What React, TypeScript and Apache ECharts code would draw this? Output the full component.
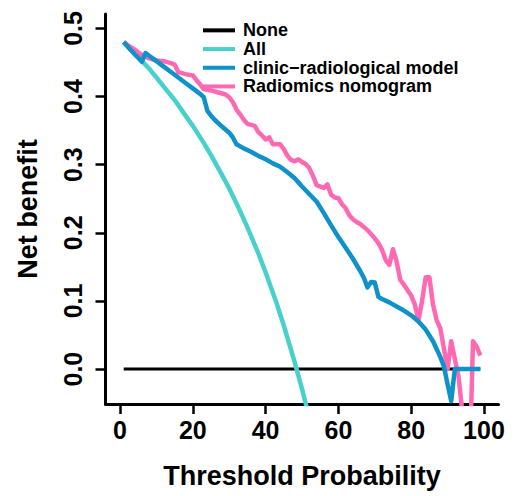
import React, { useEffect, useRef } from "react";
import * as echarts from "echarts";

const xTicks = [0, 20, 40, 60, 80, 100];
const yTicks = [0, 0.1, 0.2, 0.3, 0.4, 0.5];

const noneX = [1, 99];
const noneY = [0, 0];

const allX = [1, 3, 5, 8, 10, 13, 15, 18, 20, 23, 25, 28, 30, 33, 35, 38, 40, 43, 45, 48, 50, 51, 52];
const allY = [0.480, 0.469, 0.458, 0.441, 0.428, 0.408, 0.395, 0.372, 0.357, 0.332, 0.314, 0.285, 0.265, 0.232, 0.208, 0.170, 0.142, 0.097, 0.064, 0.010, -0.029, -0.050, -0.073];

const clinX = [1, 2, 3, 4, 5, 6, 7, 8, 10, 12, 14, 16, 18, 20, 22, 23, 24, 25, 26, 28, 30, 31, 32, 34, 36, 38, 40, 42, 44, 46, 48, 50, 52, 54, 56, 58, 60, 62, 64, 66, 67, 68, 69, 70, 71, 72, 74, 76, 78, 80, 82, 84, 86, 88, 89, 90, 91, 92, 95, 99];
const clinY = [0.480, 0.474, 0.468, 0.462, 0.457, 0.451, 0.464, 0.460, 0.452, 0.444, 0.436, 0.428, 0.420, 0.412, 0.404, 0.399, 0.379, 0.372, 0.366, 0.356, 0.347, 0.340, 0.330, 0.324, 0.319, 0.313, 0.308, 0.302, 0.297, 0.289, 0.280, 0.268, 0.257, 0.246, 0.229, 0.211, 0.194, 0.178, 0.162, 0.144, 0.134, 0.120, 0.128, 0.127, 0.106, 0.103, 0.098, 0.092, 0.086, 0.079, 0.070, 0.058, 0.041, 0.018, 0.004, -0.022, -0.047, 0.000, 0.000, 0.000];

const radX = [1, 2, 4, 6, 8, 10, 12, 14, 15, 16, 18, 20, 21, 22, 23, 25, 27, 29, 30, 31, 32, 33, 34, 35, 37, 38, 39, 40, 41, 42, 44, 45, 46, 47, 48, 49, 50, 51, 52, 53, 54, 56, 57, 58, 59, 60, 61, 62, 63, 64, 65, 66, 68, 70, 71, 72, 73, 74, 75, 76, 77, 78, 80, 81, 82, 83, 84, 85, 86, 87, 88, 89, 90, 91, 92, 93, 94, 95, 96, 97, 98, 99];
const radY = [0.480, 0.476, 0.469, 0.461, 0.456, 0.453, 0.452, 0.449, 0.447, 0.436, 0.433, 0.431, 0.424, 0.418, 0.411, 0.409, 0.406, 0.403, 0.399, 0.392, 0.381, 0.374, 0.366, 0.360, 0.357, 0.348, 0.343, 0.337, 0.340, 0.330, 0.330, 0.323, 0.313, 0.307, 0.305, 0.308, 0.304, 0.301, 0.295, 0.284, 0.270, 0.266, 0.271, 0.256, 0.252, 0.251, 0.242, 0.236, 0.226, 0.220, 0.216, 0.213, 0.204, 0.192, 0.185, 0.175, 0.160, 0.153, 0.176, 0.158, 0.131, 0.124, 0.108, 0.095, 0.072, 0.100, 0.135, 0.135, 0.095, 0.072, 0.060, 0.030, 0.000, 0.041, 0.015, -0.010, -0.060, -0.300, -0.150, 0.041, 0.033, 0.020];

const names = ["None", "All", "clinic\u2212radiological model", "Radiomics nomogram"];
const colors = ["#000000", "#48D1CC", "#0F92C9", "#FF69B4"];

const FONT = "'Liberation Sans', Arial, Helvetica, sans-serif";

function pairs(xs: number[], ys: number[]) {
  return xs.map((x, i) => [x, ys[i]]);
}

export default function App() {
  const ref = useRef<HTMLDivElement>(null);
  useEffect(() => {
    if (!ref.current) return;
    const chart = echarts.init(ref.current, null, { renderer: "svg" });
    const mk = (name: string, color: string, data: number[][], width: number, z: number) => ({
      type: "line",
      name,
      data,
      showSymbol: false,
      symbol: "none",
      clip: true,
      z,
      lineStyle: { color, width, cap: "butt", join: "round" },
      itemStyle: { color },
    });
    chart.setOption({
      animation: false,
      backgroundColor: "#ffffff",
      grid: { left: 105.5, top: 14, width: 393, height: 390, containLabel: false },
      legend: {
        orient: "vertical",
        left: 198,
        top: 16,
        icon: "rect",
        itemWidth: 32,
        itemHeight: 4,
        itemGap: 0,
        data: names,
        textStyle: {
          fontFamily: FONT,
          fontWeight: "bold",
          fontSize: 18,
          color: "#000",
          lineHeight: 18.7,
          padding: [0, 0, 0, 3],
        },
      },
      xAxis: {
        type: "value",
        min: -4,
        max: 104,
        name: "Threshold Probability",
        nameLocation: "middle",
        nameGap: 58,
        nameTextStyle: { fontFamily: FONT, fontWeight: "bold", fontSize: 27, color: "#000" },
        axisLine: { show: true, onZero: false, lineStyle: { color: "#000", width: 3 } },
        axisTick: { show: true, length: 10, customValues: xTicks, lineStyle: { color: "#000", width: 2.5 } },
        axisLabel: { customValues: xTicks, margin: 13, fontFamily: FONT, fontWeight: "bold", fontSize: 25, color: "#000" },
        splitLine: { show: false },
      },
      yAxis: {
        type: "value",
        min: -0.0512,
        max: 0.5212,
        name: "Net benefit",
        nameLocation: "middle",
        nameGap: 64,
        nameTextStyle: { fontFamily: FONT, fontWeight: "bold", fontSize: 27, color: "#000" },
        axisLine: { show: true, onZero: false, lineStyle: { color: "#000", width: 3 } },
        axisTick: { show: true, length: 10, customValues: yTicks, lineStyle: { color: "#000", width: 2.5 } },
        axisLabel: {
          customValues: yTicks,
          rotate: 90,
          margin: 20,
          fontFamily: FONT,
          fontWeight: "bold",
          fontSize: 25,
          color: "#000",
          formatter: (v: number) => v.toFixed(1),
        },
        splitLine: { show: false },
      },
      series: [
        mk(names[0], colors[0], pairs(noneX, noneY), 3, 1),
        mk(names[1], colors[1], pairs(allX, allY), 4.5, 2),
        mk(names[3], colors[3], pairs(radX, radY), 4.5, 3),
        mk(names[2], colors[2], pairs(clinX, clinY), 4.5, 4),
      ],
    });
    return () => chart.dispose();
  }, []);
  return (
    <div
      ref={ref}
      style={{ position: "absolute", left: 0, top: 0, width: 515, height: 496, background: "#fff" }}
    />
  );
}
